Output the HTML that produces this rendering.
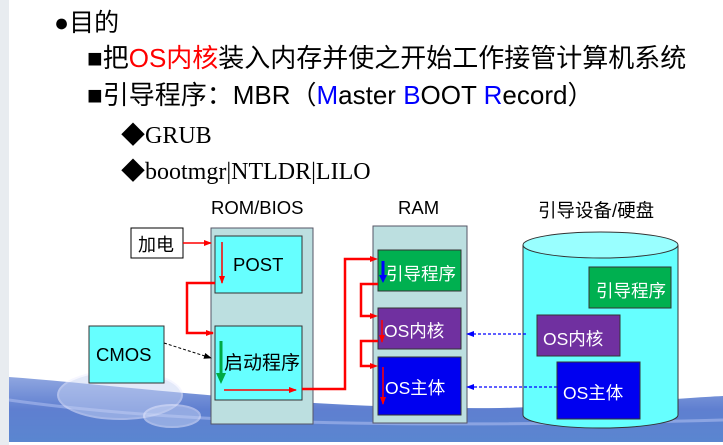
<!DOCTYPE html>
<html><head><meta charset="utf-8"><style>
html,body{margin:0;padding:0}
body{width:723px;height:445px;position:relative;overflow:hidden;background:#fff;font-family:"Liberation Sans","Noto Sans CJK SC",sans-serif}
.t{position:absolute;white-space:nowrap;color:#000}
</style></head><body>
<svg width="723" height="445" style="position:absolute;left:0;top:0" xmlns="http://www.w3.org/2000/svg">
<defs>
<linearGradient id="wv" x1="0" y1="0" x2="0" y2="1">
<stop offset="0" stop-color="#8fa6e0"/><stop offset="0.5" stop-color="#5f7fd0"/><stop offset="1" stop-color="#5a86d0"/></linearGradient>
<marker id="ar" markerWidth="8" markerHeight="8" refX="7" refY="4" orient="auto" markerUnits="userSpaceOnUse"><path d="M0,1 L8,4 L0,7z" fill="#f00"/></marker>
<marker id="ab" markerWidth="8" markerHeight="8" refX="7" refY="4" orient="auto" markerUnits="userSpaceOnUse"><path d="M0,1 L8,4 L0,7z" fill="#00f"/></marker>
<marker id="ak" markerWidth="8" markerHeight="8" refX="7" refY="4" orient="auto" markerUnits="userSpaceOnUse"><path d="M0,1 L8,4 L0,7z" fill="#000"/></marker>
</defs>
<rect x="0" y="0" width="9" height="445" fill="#e8ecf0"/>
<path d="M9,377 C120,385 300,410 500,408 C600,406 680,398 723,396 L723,442 L9,442z" fill="url(#wv)"/>
<path d="M9,400 C150,420 350,430 723,420" stroke="#aabbee" stroke-width="3" fill="none" opacity="0.6"/>
<ellipse cx="120" cy="395" rx="62" ry="24" fill="#c8d4f4" opacity="0.5" stroke="#eef" stroke-width="2"/>
<ellipse cx="172" cy="416" rx="28" ry="11" fill="#c8d4f4" opacity="0.5" stroke="#eef" stroke-width="2"/>

<rect x="211" y="228" width="102" height="196" fill="#bcdfe0" stroke="#556" stroke-width="1"/>
<rect x="215" y="236" width="87" height="57" fill="#66ffff" stroke="#333"/>
<rect x="215" y="326" width="87" height="74" fill="#66ffff" stroke="#333"/>
<rect x="131" y="228" width="52" height="30" fill="#fff" stroke="#000"/>
<rect x="89" y="326" width="75" height="57" fill="#66ffff" stroke="#333"/>
<rect x="373" y="226" width="94" height="197" fill="#bcdfe0" stroke="#556"/>
<rect x="378" y="250" width="83" height="41" fill="#00b050" stroke="#333"/>
<rect x="378" y="308" width="83" height="41" fill="#7030a0" stroke="#333"/>
<rect x="378" y="357" width="83" height="58" fill="#0000f0" stroke="#333"/>
<path d="M523,245 L523,415 A77.5,13 0 0 0 678,415 L678,245" fill="#66ffff" stroke="#333"/>
<ellipse cx="600.5" cy="245" rx="77.5" ry="13" fill="#99ffff" stroke="#333"/>
<rect x="589" y="267" width="82" height="41" fill="#00b050" stroke="#333"/>
<rect x="537" y="315" width="83" height="41" fill="#7030a0" stroke="#333"/>
<rect x="557" y="362" width="83" height="57" fill="#0000f0" stroke="#333"/>

<g stroke="#f00" fill="none">
<line x1="183" y1="243" x2="211" y2="243" stroke-width="1.5" marker-end="url(#ar)"/>
<line x1="222" y1="242" x2="222" y2="283" stroke-width="1.5" marker-end="url(#ar)"/>
<polyline points="215,283 187,283 187,333 213,333" stroke-width="2.5"/>
<line x1="205" y1="333" x2="213" y2="333" stroke-width="1" marker-end="url(#ar)"/>
<line x1="224" y1="390" x2="296" y2="390" stroke-width="1.5" marker-end="url(#ar)"/>
<polyline points="302,389 345,389 345,259 372,259" stroke-width="2.5"/>
<line x1="368" y1="259" x2="377" y2="259" stroke-width="1" marker-end="url(#ar)"/>
<polyline points="378,284 361,284 361,316 372,316" stroke-width="2.5"/>
<line x1="368" y1="316" x2="377" y2="316" stroke-width="1" marker-end="url(#ar)"/>
<polyline points="378,341 361,341 361,366 372,366" stroke-width="2.5"/>
<line x1="368" y1="366" x2="377" y2="366" stroke-width="1" marker-end="url(#ar)"/>
<line x1="382" y1="320" x2="382" y2="342" stroke-width="1.5" marker-end="url(#ar)"/>
<line x1="383" y1="367" x2="383" y2="404" stroke-width="1.5" marker-end="url(#ar)"/>
</g>
<line x1="383" y1="261" x2="383" y2="276" stroke="#00f" stroke-width="3"/>
<path d="M379,275 L387,275 L383,283z" fill="#00f"/>
<line x1="221" y1="341" x2="221" y2="374" stroke="#0a4" stroke-width="3"/>
<path d="M216,373 L226,373 L221,384z" fill="#0a4"/>
<line x1="164" y1="343" x2="211" y2="358" stroke="#000" stroke-width="1" stroke-dasharray="3,2" marker-end="url(#ak)"/>
<line x1="526" y1="334" x2="467" y2="334" stroke="#00f" stroke-width="1.2" stroke-dasharray="3,2" marker-end="url(#ab)"/>
<line x1="557" y1="387" x2="467" y2="387" stroke="#00f" stroke-width="1.2" stroke-dasharray="3,2" marker-end="url(#ab)"/>
</svg>

<div class="t" style="left:54px;top:3px;font-size:25px">●目的</div>
<div class="t" style="left:87px;top:38px;font-size:26px">■把<span style="color:#f00">OS内核</span>装入内存并使之开始工作接管计算机系统</div>
<div class="t" style="left:87px;top:75px;font-size:26px">■引导程序：MBR（<span style="color:#00f">M</span>aster <span style="color:#00f">B</span>OOT <span style="color:#00f">R</span>ecord）</div>
<div class="t" style="left:121px;top:115px;font-size:24px;font-family:'Liberation Serif','Noto Serif CJK SC',serif">◆GRUB</div>
<div class="t" style="left:121px;top:151px;font-size:24px;font-family:'Liberation Serif','Noto Serif CJK SC',serif">◆bootmgr|NTLDR|LILO</div>

<div class="t" style="left:211px;top:197px;font-size:18.5px">ROM/BIOS</div>
<div class="t" style="left:398px;top:197px;font-size:18.5px">RAM</div>
<div class="t" style="left:538px;top:197px;font-size:18.5px">引导设备/硬盘</div>

<div class="t" style="left:138px;top:231px;font-size:18px">加电</div>
<div class="t" style="left:233px;top:254px;font-size:18.5px">POST</div>
<div class="t" style="left:96px;top:344px;font-size:18.5px">CMOS</div>
<div class="t" style="left:224px;top:348px;font-size:19px">启动程序</div>
<div class="t" style="left:386px;top:261px;font-size:17.5px;color:#fff">引导程序</div>
<div class="t" style="left:384px;top:318px;font-size:17.5px;color:#fff">OS内核</div>
<div class="t" style="left:385px;top:375px;font-size:17.5px;color:#fff">OS主体</div>
<div class="t" style="left:596px;top:278px;font-size:17.5px;color:#fff">引导程序</div>
<div class="t" style="left:543px;top:326px;font-size:17.5px;color:#fff">OS内核</div>
<div class="t" style="left:563px;top:380px;font-size:17.5px;color:#fff">OS主体</div>
</body></html>
